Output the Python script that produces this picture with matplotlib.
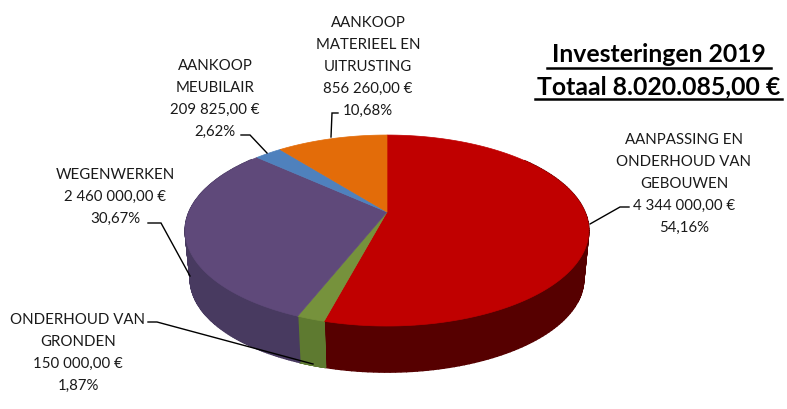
"""3D style pie of the 2019 investments, drawn as polygons in pixel coordinates."""

import numpy as np
import matplotlib
matplotlib.use("Agg")
import matplotlib.pyplot as plt
from matplotlib.patches import Polygon

names = ["AANPASSING EN\nONDERHOUD VAN\nGEBOUWEN", "ONDERHOUD VAN\nGRONDEN", "WEGENWERKEN",
         "AANKOOP\nMEUBILAIR", "AANKOOP\nMATERIEEL EN\nUITRUSTING"]
amounts = ["4 344 000,00 €", "150 000,00 €", "2 460 000,00 €", "209 825,00 €", "856 260,00 €"]
shares = [54.16, 1.87, 30.67, 2.62, 10.68]
top_colors = ["#C00000", "#76923C", "#5F497A", "#4F81BD", "#E36C09"]
side_colors = ["#560000", "#5E7A30", "#483A60", "#3B6090", "#A04C06"]
title_lines = ["Investeringen 2019", "Totaal 8.020.085,00 €"]

# label anchor (centre x, first line y)
label_pos = [(684, 140), (78, 320), (115, 175), (215, 66), (368, 23)]
leaders = [
    [(590, 225), (620, 208), (629, 208)],
    [(148, 323), (157, 323), (313, 365)],
    [(148, 224), (161, 224), (190, 277)],
    [(241, 136), (250, 136), (267, 154)],
    [(338, 114), (332, 114), (331, 138)],
]

# pie projection
CX, CY = 387, 213
A, B, K = 198, 91.9, 0.194
DEPTH = 49
SHRINK = 0.975


def project(theta):
    # theta clockwise from 12 o'clock
    u, v = np.sin(theta), np.cos(theta)
    w = 1 + K * v
    return CX + A * u / w, CY - B * v / w


fig = plt.figure(figsize=(7.87, 4.10), dpi=100)
ax = fig.add_axes([0, 0, 1, 1])
ax.set_xlim(0, 787)
ax.set_ylim(410, 0)
ax.axis("off")

edges = np.radians(np.cumsum([0] + shares) * 360 / sum(shares))

# side walls as small quads so the silhouette stays closed at the left and right ends
for i in range(len(shares)):
    t = np.linspace(edges[i], edges[i + 1], 150)
    x, y = project(t)
    keep = (t > np.radians(50)) & (t < np.radians(310))
    if keep.sum() < 2:
        continue
    x, y = x[keep], y[keep]
    low_x = CX + (x - CX) * SHRINK
    low_y = CY + (y - CY) * SHRINK + DEPTH
    for j in range(len(x) - 1):
        quad = [(x[j], y[j]), (x[j + 1], y[j + 1]), (low_x[j + 1], low_y[j + 1]), (low_x[j], low_y[j])]
        ax.add_patch(Polygon(quad, closed=True, fc=side_colors[i], ec=side_colors[i], lw=1.0, zorder=2))

# top face
for i in range(len(shares)):
    t = np.linspace(edges[i], edges[i + 1], 120)
    x, y = project(t)
    pts = np.r_[[[CX, CY]], np.c_[x, y]]
    ax.add_patch(Polygon(pts, closed=True, fc=top_colors[i], ec=top_colors[i], lw=0.5, zorder=3))

for pts in leaders:
    xs, ys = zip(*pts)
    ax.plot(xs, ys, color="black", lw=1.0, zorder=4, solid_joinstyle="miter")

font = "Lato"
for name, amount, share, (lx, ly) in zip(names, amounts, shares, label_pos):
    rows = name.split("\n") + [amount, f"{share:.2f}%".replace(".", ",")]
    for j, row in enumerate(rows):
        ax.text(lx, ly + j * 21.9, row, ha="center", va="center", family=font,
                fontsize=10.8, color="#1a1a1a", zorder=5)

for line, y, (x0, x1), uy in zip(title_lines, [55, 87], [(547, 771), (535, 782)], [69, 100]):
    ax.text((x0 + x1) / 2, y, line, ha="center", va="center", family=font,
            fontsize=17.8, fontweight="bold", color="black")
    ax.plot([x0, x1], [uy, uy], color="black", lw=1.8)

fig.savefig("out.png", dpi=100)
